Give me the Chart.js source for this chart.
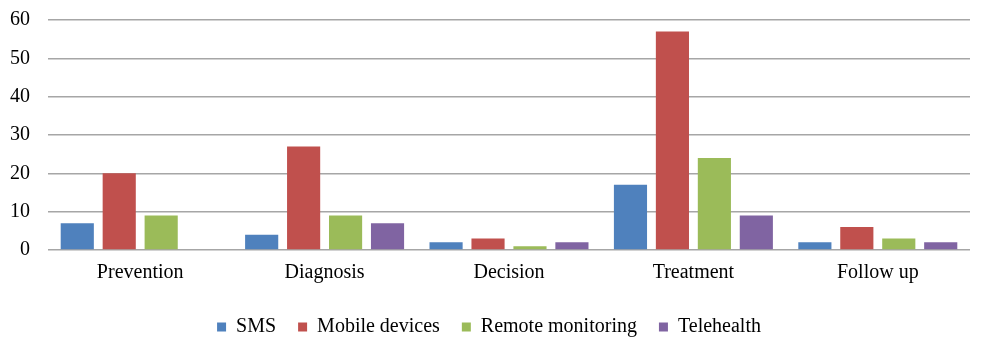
<!DOCTYPE html>
<html>
<head>
<meta charset="utf-8">
<script src="https://cdn.jsdelivr.net/npm/chart.js@4/dist/chart.umd.min.js"></script>
<style>
  html, body { margin: 0; padding: 0; background: #fff; }
  #wrap { width: 992px; height: 353px; position: relative; }
</style>
</head>
<body>
<div id="wrap"><canvas id="myChart" width="992" height="353"></canvas></div>
<script>
(function(){
    "use strict";

    var categories = ['Prevention', 'Diagnosis', 'Decision', 'Treatment', 'Follow up'];
    var smsValues = [7, 4, 2, 17, 2];
    var mobileValues = [20, 27, 3, 57, 6];
    var remoteValues = [9, 9, 1, 24, 3];
    var teleValues = [0, 7, 2, 9, 2];
    var yTicks = [0, 10, 20, 30, 40, 50, 60];

    var serif = '"Liberation Serif", "Times New Roman", serif';

    function series(label, data, color){
        return {
            label: label,
            data: data,
            backgroundColor: color,
            borderWidth: 0,
            categoryPercentage: 0.91,
            barPercentage: 0.79
        };
    }

    var ctx = document.getElementById('myChart').getContext('2d');
    var myChart = new Chart(ctx, {
        type: 'bar',
        data: {
            labels: categories,
            datasets: [
                series('SMS', smsValues, '#4F81BD'),
                series('Mobile devices', mobileValues, '#C0504D'),
                series('Remote monitoring', remoteValues, '#9BBB59'),
                series('Telehealth', teleValues, '#8064A2')
            ]
        },
        options: {
            responsive: false,
            animation: false,
            devicePixelRatio: 1,
            layout: { padding: { left: 8, right: 22, top: 0, bottom: 6 } },
            plugins: {
                tooltip: { enabled: false },
                legend: {
                    position: 'bottom',
                    labels: {
                        boxWidth: 9,
                        boxHeight: 9,
                        padding: 22,
                        color: '#000',
                        font: { family: serif, size: 20 }
                    }
                }
            },
            scales: {
                x: {
                    grid: { display: false, drawTicks: false },
                    border: { display: false },
                    ticks: {
                        color: '#000',
                        padding: 18,
                        font: { family: serif, size: 20, lineHeight: 0.45 }
                    }
                },
                y: {
                    min: 0,
                    max: 60,
                    afterBuildTicks: function(axis){
                        axis.ticks = yTicks.map(function(v){ return { value: v }; });
                    },
                    afterFit: function(axis){
                        axis.width = 40;
                        axis.paddingTop = 20;
                    },
                    grid: { color: '#A6A6A6', lineWidth: 1.5, drawTicks: false },
                    border: { display: false },
                    ticks: {
                        color: '#000',
                        padding: 18,
                        font: { family: serif, size: 20, lineHeight: 1 }
                    }
                }
            }
        }
    });
})();
</script>
</body>
</html>
